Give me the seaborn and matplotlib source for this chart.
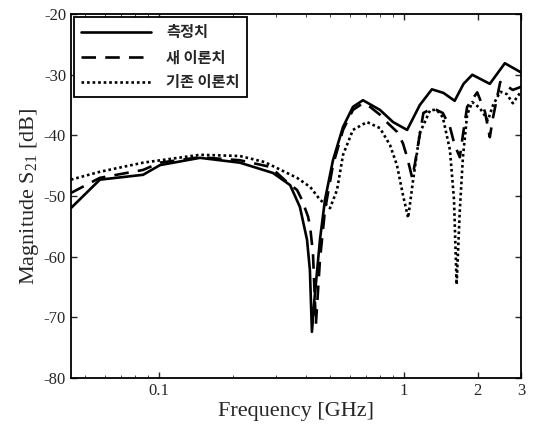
import numpy as np
import pandas as pd
import matplotlib
matplotlib.use("Agg")
import matplotlib.pyplot as plt
import seaborn as sns

# measured (측정치)
meas_f = [0.0437, 0.0574, 0.0861, 0.101, 0.147, 0.214, 0.292, 0.343, 0.376, 0.402, 0.413, 0.421,
          0.431, 0.454, 0.476, 0.513, 0.564, 0.619, 0.68, 0.798, 0.902, 1.03, 1.16, 1.30, 1.45,
          1.61, 1.75, 1.90, 2.24, 2.58, 3.0]
meas_db = [-52.0, -47.3, -46.5, -44.9, -43.7, -44.5, -46.2, -48.2, -51.8, -57.2, -62.2, -72.4,
           -67.1, -57.2, -50.6, -44.1, -38.6, -35.3, -34.2, -35.8, -37.8, -39.1, -35.0, -32.4, -33.0,
           -34.3, -31.5, -30.0, -31.5, -28.1, -29.6]

# new theory (새 이론치)
new_f = [0.0437, 0.0574, 0.0861, 0.101, 0.147, 0.214, 0.285, 0.333, 0.366, 0.383, 0.406, 0.414,
         0.425, 0.437, 0.454, 0.476, 0.513, 0.564, 0.619, 0.68, 0.727, 0.798, 0.86, 0.936, 0.99,
         1.03, 1.08, 1.11, 1.20, 1.31, 1.44, 1.54, 1.61, 1.69, 1.74, 1.81, 1.99, 2.14, 2.24, 2.31,
         2.47, 2.78, 3.0]
new_db = [-49.5, -47.0, -45.7, -44.5, -43.6, -44.1, -45.2, -47.7, -49.0, -50.6, -53.4, -55.1,
          -59.4, -71.2, -60.5, -52.3, -44.9, -39.1, -35.8, -34.7, -35.3, -36.6, -38.0, -39.4, -41.3,
          -43.6, -47.0, -44.5, -36.3, -35.5, -36.3, -38.6, -41.6, -43.6, -39.9, -35.3, -32.9, -36.1,
          -40.3, -37.0, -31.2, -32.5, -32.0]

# old theory (기존 이론치)
old_f = [0.0437, 0.0574, 0.0861, 0.147, 0.214, 0.270, 0.366, 0.414, 0.454, 0.499, 0.533, 0.564,
         0.619, 0.706, 0.798, 0.877, 0.936, 0.99, 1.04, 1.09, 1.16, 1.28, 1.36, 1.44, 1.54, 1.60,
         1.64, 1.69, 1.74, 1.81, 1.90, 2.04, 2.20, 2.31, 2.47, 2.63, 2.78, 3.0]
old_db = [-47.3, -46.0, -44.5, -43.2, -43.4, -44.4, -47.0, -48.5, -50.6, -52.0, -49.0, -43.2,
          -39.1, -37.8, -38.8, -41.6, -44.9, -49.8, -53.6, -47.3, -39.6, -35.8, -35.8, -37.0, -42.4,
          -50.6, -64.6, -52.3, -43.6, -36.6, -34.5, -35.5, -37.5, -35.0, -32.8, -33.2, -34.7, -32.8]

labels = ['측정치', '새 이론치', '기존 이론치']

df = pd.concat([
    pd.DataFrame({'Frequency': meas_f, 'Magnitude': meas_db, 'series': labels[0]}),
    pd.DataFrame({'Frequency': new_f, 'Magnitude': new_db, 'series': labels[1]}),
    pd.DataFrame({'Frequency': old_f, 'Magnitude': old_db, 'series': labels[2]}),
], ignore_index=True)

sns.set_style("ticks")
plt.rcParams['font.family'] = ['Liberation Serif', 'Noto Sans CJK KR']
plt.rcParams['mathtext.fontset'] = 'custom'
plt.rcParams['mathtext.rm'] = 'Liberation Serif'
plt.rcParams['axes.unicode_minus'] = False

fig = plt.figure(figsize=(5.37, 4.28), dpi=100)
ax = fig.add_axes([0.132, 0.117, 0.838, 0.850])

sns.lineplot(data=df, x='Frequency', y='Magnitude', style='series', style_order=labels,
             dashes={labels[0]: '', labels[1]: (5.5, 3.5), labels[2]: (1, 1.1)},
             color='black', lw=1.9, estimator=None, sort=False, ax=ax)

ax.set_xscale('log')
ax.set_xlim(0.0437, 3.0)
ax.set_ylim(-80, -20)
ax.set_xticks([0.1, 1, 2, 3])
ax.set_xticklabels(['0.1', '1', '2', '3'])
ax.set_yticks(np.arange(-80, -19, 10))
ax.tick_params(direction='in', top=True, right=True, labelsize=12, length=4, width=1)
ax.tick_params(which='minor', direction='in', top=True, right=False, length=2.5)
for s in ax.spines.values():
    s.set_linewidth(1.3)
    s.set_color('black')

ax.set_xlabel('Frequency [GHz]', fontsize=16, labelpad=2)
ax.set_ylabel('Magnitude S$_{21}$ [dB]', fontsize=16, labelpad=2)

leg = ax.legend(loc='upper left', prop={'family': ['Noto Sans CJK KR'], 'size': 11, 'weight': 'bold'},
                handlelength=4.6, fancybox=False, framealpha=1, edgecolor='black',
                borderaxespad=0.2, labelspacing=0.6, handletextpad=1.0, borderpad=0.45)
leg.get_frame().set_linewidth(1.3)
for h in leg.get_lines():
    h.set_linewidth(1.9)

fig.savefig('out.png', dpi=100)
